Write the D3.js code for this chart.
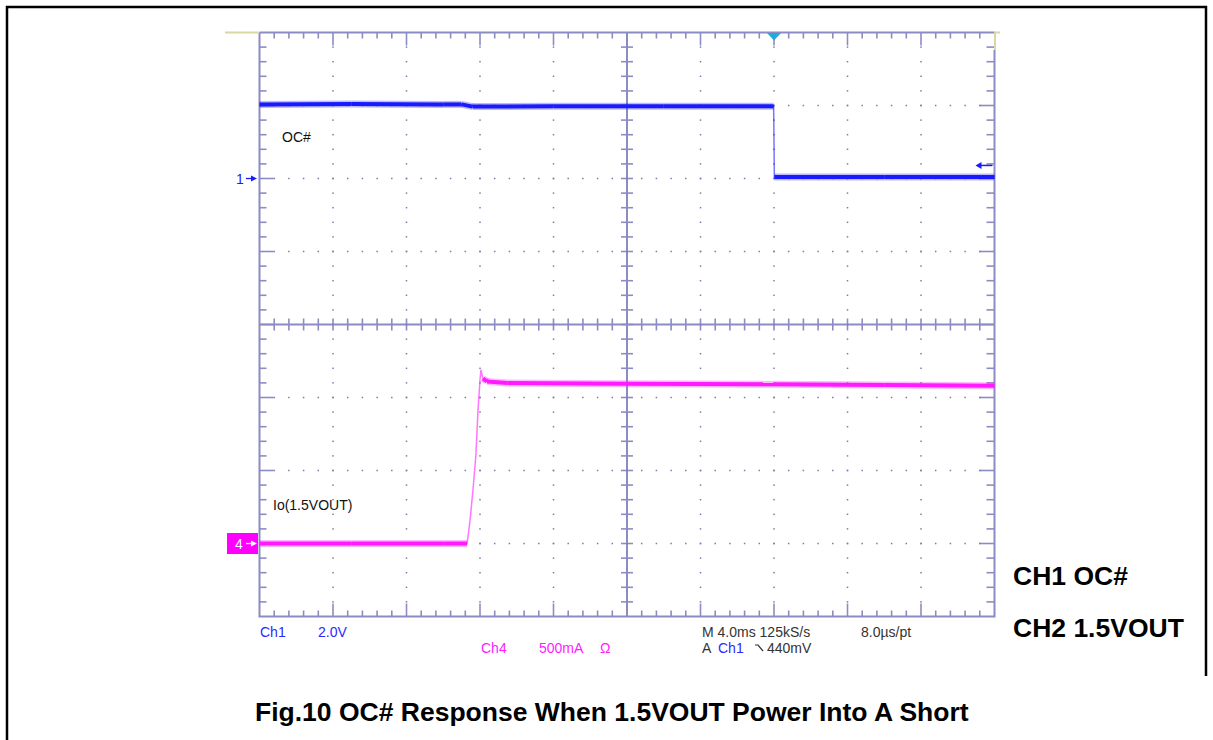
<!DOCTYPE html>
<html>
<head>
<meta charset="utf-8">
<script src="https://cdn.jsdelivr.net/npm/d3@7"></script>
<style>
  body { margin: 0; background: #fff; }
  svg { display: block; }
</style>
</head>
<body>
<div id="viz"></div>
<script>
// CH1 (OC#), volts, time in ms from left edge of screen (4 ms/div)
const ch1Time = [0, 5, 10, 11.0, 11.6, 16, 22, 27.98, 28.02, 34, 40];
const ch1Volts = [2.03, 2.04, 2.03, 2.03, 1.97, 1.98, 1.98, 1.98, 0.04, 0.04, 0.04];

// CH4 (Io of 1.5VOUT), amps
const ch4Time = [0, 5, 10, 11.3, 11.46, 11.62, 11.78, 11.89, 12.0, 12.05, 12.16, 12.38, 13.5, 20, 28, 34, 40];
const ch4Amps = [0, 0, 0, 0, 0.16, 0.37, 0.61, 0.91, 1.12, 1.19, 1.13, 1.11, 1.10, 1.095, 1.09, 1.085, 1.08];

const triggerTime = 28;     // ms
const triggerLevel = 0.44;  // V

const scopeTexts = {
  ch1Scale: ["Ch1", "2.0V"],
  ch4Scale: ["Ch4", "500mA", "Ω"],
  timebase: ["M 4.0ms 125kS/s", "8.0µs/pt"],
  trigger: ["A", "Ch1", "440mV"]
};
const legendLines = ["CH1 OC#", "CH2 1.5VOUT"];
const title = "Fig.10 OC# Response When 1.5VOUT Power Into A Short";

const width = 1213, height = 740;
const x0 = 259.5, x1 = 994.5, y0 = 32.5, y1 = 616.5;

const gridColor = "#8c8cc4",
  dotColor = "#7c7cac",
  blue = "#1a1aff",
  magenta = "#ff1aff";

const x = d3.scaleLinear().domain([0, 40]).range([x0, x1]);
const yCh1 = d3.scaleLinear().domain([-12, 4]).range([y1, y0]);     // 2 V/div, ground 2 div below top
const yCh4 = d3.scaleLinear().domain([-0.5, 3.5]).range([y1, y0]);  // 500 mA/div, ground 7 div below top
const xDiv = d3.scaleLinear().domain([0, 10]).range([x0, x1]);
const yDiv = d3.scaleLinear().domain([0, 8]).range([y0, y1]);

const svg = d3.select("#viz")
  .append("svg")
  .attr("width", width)
  .attr("height", height)
  .attr("viewBox", [0, 0, width, height]);

// outer frame
svg.append("path")
  .attr("d", `M7,740 V7 H1206 V676`)
  .attr("fill", "none")
  .attr("stroke", "#000")
  .attr("stroke-width", 2.5);

// --- graticule ---
const grat = svg.append("g").attr("stroke", gridColor).attr("fill", "none");

const minorX = d3.range(1, 50).map(i => i / 5);
const minorY = d3.range(1, 40).map(i => i / 5);

// dotted major lines
const dots = svg.append("g").attr("fill", dotColor);
d3.range(1, 10).filter(i => i !== 5).forEach(i => {
  dots.selectAll(null)
    .data(minorY)
    .join("rect")
    .attr("x", xDiv(i) - 0.75).attr("y", d => yDiv(d) - 0.75)
    .attr("width", 1.5).attr("height", 1.5);
});
d3.range(1, 8).filter(i => i !== 4).forEach(i => {
  dots.selectAll(null)
    .data(minorX)
    .join("rect")
    .attr("x", d => xDiv(d) - 0.75).attr("y", yDiv(i) - 0.75)
    .attr("width", 1.5).attr("height", 1.5);
});

// centre axes
grat.append("line").attr("x1", x0).attr("x2", x1).attr("y1", yDiv(4)).attr("y2", yDiv(4)).attr("stroke-width", 2);
grat.append("line").attr("x1", xDiv(5)).attr("x2", xDiv(5)).attr("y1", y0).attr("y2", y1).attr("stroke-width", 2);
grat.selectAll(".cx")
  .data(minorX)
  .join("line")
  .attr("x1", d => xDiv(d)).attr("x2", d => xDiv(d))
  .attr("y1", yDiv(4) - 6).attr("y2", yDiv(4) + 6)
  .attr("stroke-width", 1.6);
grat.selectAll(".cy")
  .data(minorY)
  .join("line")
  .attr("y1", d => yDiv(d)).attr("y2", d => yDiv(d))
  .attr("x1", xDiv(5) - 6).attr("x2", xDiv(5) + 6)
  .attr("stroke-width", 1.6);

// border
grat.append("path")
  .attr("d", `M${x0},${y0} H${x1} M${x0},${y0} V${y1} H${x1} V50`)
  .attr("stroke-width", 2);

// border ticks: longer at whole divisions
const tickLen = d => Math.abs(d - Math.round(d)) < 1e-6 ? 13 : 6;
grat.selectAll(".tt")
  .data(minorX)
  .join("line")
  .attr("x1", d => xDiv(d)).attr("x2", d => xDiv(d))
  .attr("y1", y0).attr("y2", d => y0 + tickLen(d))
  .attr("stroke-width", 1.6);
grat.selectAll(".tb")
  .data(minorX)
  .join("line")
  .attr("x1", d => xDiv(d)).attr("x2", d => xDiv(d))
  .attr("y1", y1).attr("y2", d => y1 - tickLen(d))
  .attr("stroke-width", 1.6);
grat.selectAll(".tl")
  .data(minorY)
  .join("line")
  .attr("y1", d => yDiv(d)).attr("y2", d => yDiv(d))
  .attr("x1", x0).attr("x2", d => x0 + tickLen(d) + 1)
  .attr("stroke-width", 1.6);
grat.selectAll(".tr")
  .data(minorY)
  .join("line")
  .attr("y1", d => yDiv(d)).attr("y2", d => yDiv(d))
  .attr("x1", x1).attr("x2", d => x1 - tickLen(d) - 2)
  .attr("stroke-width", 1.6);

// yellowish ruler bits
svg.append("path")
  .attr("d", `M225,${y0} H${x0 - 1} M${x1},${y0} H1000 M${x1 + 0.5},${y0} V50`)
  .attr("stroke", "#d8d8a4")
  .attr("stroke-width", 2)
  .attr("fill", "none");

// --- traces ---
function drawTrace(times, values, yScale, color) {
  const pts = times.map((t, i) => [x(t), yScale(values[i])]);
  const g = svg.append("g").attr("fill", "none");
  g.append("path")
    .attr("d", d3.line()(pts))
    .attr("stroke", color)
    .attr("stroke-opacity", 0.6)
    .attr("stroke-width", 1.5);
  const flat = d3.pairs(pts).filter(([a, b]) => Math.abs(b[1] - a[1]) < Math.abs(b[0] - a[0]));
  g.selectAll(".halo")
    .data(flat)
    .join("path")
    .attr("d", d => d3.line()(d))
    .attr("stroke", color)
    .attr("stroke-opacity", 0.3)
    .attr("stroke-width", 7);
  g.selectAll(".band")
    .data(flat)
    .join("path")
    .attr("d", d => d3.line()(d))
    .attr("stroke", color)
    .attr("stroke-width", 4);
}
drawTrace(ch1Time, ch1Volts, yCh1, blue);
drawTrace(ch4Time, ch4Amps, yCh4, magenta);

// trigger position marker
const tx = x(triggerTime);
svg.append("path")
  .attr("d", `M${tx - 7},${y0 + 0.5} L${tx + 7},${y0 + 0.5} L${tx},${y0 + 8} Z`)
  .attr("fill", "#22aadd");

// trigger level arrow (right)
const ty = yCh1(triggerLevel) + 3;
svg.append("path")
  .attr("d", `M${x1 - 2},${ty} H${x1 - 17}`)
  .attr("stroke", blue).attr("stroke-width", 1.5);
svg.append("path")
  .attr("d", `M${x1 - 19},${ty} l6,-3.5 v7 Z`)
  .attr("fill", blue);

// ground markers
const font = "'Liberation Sans', Arial, sans-serif";
const small = `14px ${font}`;
const g1 = yCh1(0);
svg.append("text").attr("x", 236).attr("y", g1 + 5).text("1")
  .attr("fill", blue).style("font", small);
svg.append("path").attr("d", `M246,${g1} H252`).attr("stroke", blue).attr("stroke-width", 1.3);
svg.append("path").attr("d", `M257,${g1} l-6,-3 v6 Z`).attr("fill", blue);

const g4 = yCh4(0);
svg.append("rect").attr("x", 227).attr("y", g4 - 10.5).attr("width", 31).attr("height", 21).attr("fill", "#ff00ff");
svg.append("text").attr("x", 235).attr("y", g4 + 5).text("4")
  .attr("fill", "#fff").style("font", small);
svg.append("path").attr("d", `M246,${g4} H252`).attr("stroke", "#fff").attr("stroke-width", 1.3);
svg.append("path").attr("d", `M257,${g4} l-6,-3 v6 Z`).attr("fill", "#fff");

// channel labels on screen
svg.append("text").attr("x", 282).attr("y", 142).text("OC#")
  .attr("fill", "#111").style("font", small);
svg.append("text").attr("x", 273).attr("y", 510).text("Io(1.5VOUT)")
  .attr("fill", "#111").style("font", small);

// readouts below graticule
const readout = [
  { t: scopeTexts.ch1Scale[0], x: 260, y: 637, c: "#2a2aff" },
  { t: scopeTexts.ch1Scale[1], x: 318, y: 637, c: "#2a2aff" },
  { t: scopeTexts.ch4Scale[0], x: 481, y: 653, c: magenta },
  { t: scopeTexts.ch4Scale[1], x: 539, y: 653, c: magenta },
  { t: scopeTexts.ch4Scale[2], x: 600, y: 653, c: magenta },
  { t: scopeTexts.timebase[0], x: 702, y: 637, c: "#333" },
  { t: scopeTexts.timebase[1], x: 861, y: 637, c: "#333" },
  { t: scopeTexts.trigger[0], x: 702, y: 653, c: "#333" },
  { t: scopeTexts.trigger[1], x: 718, y: 653, c: "#2a2aff" },
  { t: scopeTexts.trigger[2], x: 767, y: 653, c: "#333" }
];
svg.selectAll(".readout")
  .data(readout)
  .join("text")
  .attr("x", d => d.x).attr("y", d => d.y)
  .attr("fill", d => d.c)
  .style("font", small)
  .text(d => d.t);
// falling-slope symbol
svg.append("path")
  .attr("d", "M755,645 H758 L763,651")
  .attr("fill", "none").attr("stroke", "#333").attr("stroke-width", 1.2);

// legend and caption
const bold = `bold 26.5px ${font}`;
svg.selectAll(".legend")
  .data(legendLines)
  .join("text")
  .attr("x", 1013)
  .attr("y", (d, i) => 585 + i * 52)
  .attr("fill", "#000")
  .style("font", bold)
  .text(d => d);
svg.append("text")
  .attr("x", 255).attr("y", 721)
  .attr("fill", "#000")
  .style("font", bold)
  .text(title);
</script>
</body>
</html>
